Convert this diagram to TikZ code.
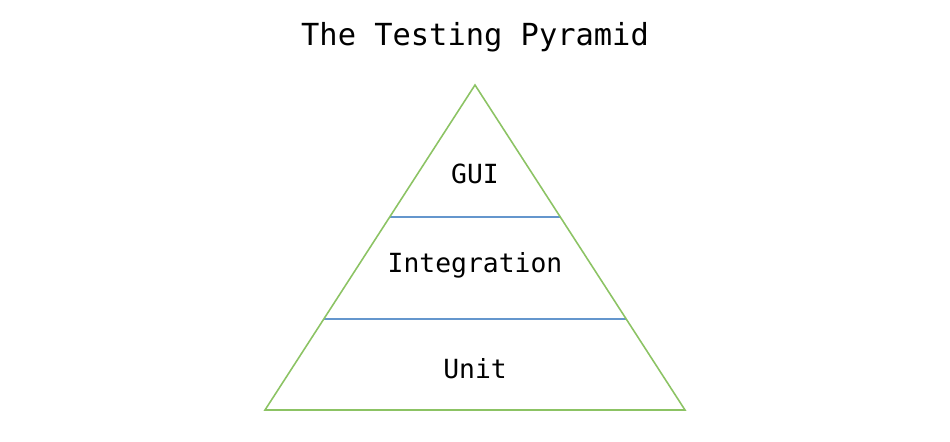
\documentclass[tikz,border=0pt]{standalone}
\usepackage{fontspec}
\setmonofont{DejaVu Sans Mono}
\usetikzlibrary{calc}
\definecolor{edgegreen}{RGB}{140,195,100}
\definecolor{layerblue}{RGB}{100,150,205}
\tikzset{
  layerlabel/.style={font=\ttfamily\fontsize{15}{18}\selectfont, text=black},
}
\begin{document}
\begin{tikzpicture}[x=0.02cm,y=-0.02cm]
  \useasboundingbox (0,0) rectangle (950,442);
  \node (title) at (475,37) {\ttfamily\fontsize{17.3}{20}\selectfont The Testing Pyramid};

  \coordinate (apex) at (475,85);
  \coordinate (bl) at (265,410);
  \coordinate (br) at (685,410);

  % layer borders
  \foreach \t/\n in {0.406/a,0.72/b}
  {
    \coordinate (l\n) at ($(apex)!\t!(bl)$);
    \coordinate (r\n) at ($(apex)!\t!(br)$);
    \draw[layerblue, line width=0.8pt] (l\n) -- (r\n);
  }

  \draw[edgegreen, line width=0.9pt] (apex) -- (bl) -- (br) -- cycle;

  \node[layerlabel] (gui) at (475,174) {GUI};
  \node[layerlabel] (integration) at (475,265) {Integration};
  \node[layerlabel] (unit) at (475,369) {Unit};
\end{tikzpicture}
\end{document}
